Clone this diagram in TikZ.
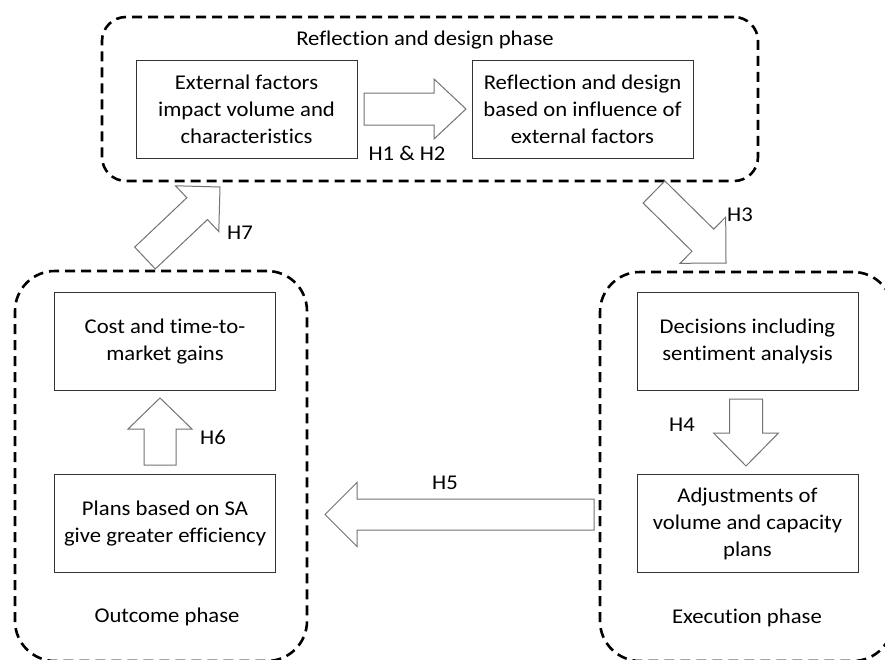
\documentclass[tikz,border=0pt]{standalone}
\usepackage{fontspec}
\setmainfont{Carlito}[Ligatures=NoCommon, FakeStretch=1.08]
\usetikzlibrary{calc}
\newcommand{\diagfont}{\fontsize{21}{27}\selectfont}
\newcommand{\blockarrow}[5]{%
  \coordinate (#1-h) at ($(#2)!#5!(#1)$);
  \draw[arr] ($(#1)!#3!90:(#2)$) -- ($(#1-h)!#3!90:(#2)$) -- ($(#1-h)!#4!90:(#2)$) -- (#2)
    -- ($(#1-h)!#4!-90:(#2)$) -- ($(#1-h)!#3!-90:(#2)$) -- ($(#1)!#3!-90:(#2)$) -- cycle;}
\begin{document}
\begin{tikzpicture}[x=1pt,y=-1pt,
  box/.style={draw=black!80, line width=1pt, minimum width=221pt, minimum height=98pt,
    align=center, inner sep=0pt, font=\diagfont},
  phasebox/.style={draw=black, line width=2.6pt, dash pattern=on 10pt off 6pt, inner sep=0pt},
  arr/.style={draw=black!55, line width=1pt, fill=white, line join=miter},
  lbl/.style={font=\diagfont, inner sep=0pt}]
\useasboundingbox (0,0) rectangle (885,659);
\clip (0,0) rectangle (885,659);
\fill[white] (0,0) rectangle (885,659);

% phase containers
\node[phasebox, rounded corners=24pt, minimum width=656pt, minimum height=164pt] (reflphase) at (430,99) {};
\node[phasebox, rounded corners=40pt, minimum width=292pt, minimum height=390pt] (outphase) at (161,466) {};
\node[phasebox, rounded corners=40pt, minimum width=293pt, minimum height=389pt] (execphase) at (746.5,466.5) {};

% phase titles
\node[lbl] (refltitle) at (425,40) {Reflection and design phase};
\node[lbl] (outtitle) at (167,617) {Outcome phase};
\node[lbl] (exectitle) at (747,618) {Execution phase};

% boxes
\node[box] (ext) at (246.5,109) {External factors\\impact volume and\\characteristics};
\node[box] (refl) at (582.5,109) {Reflection and design\\based on influence of\\external factors};
\node[box] (cost) at (165,341.5) {Cost and time-to-\\market gains};
\node[box] (plans) at (165,523.5) {Plans based on SA\\give greater efficiency};
\node[box] (dec) at (747.5,341) {Decisions including\\sentiment analysis};
\node[box] (adj) at (747.5,523.5) {Adjustments of\\volume and capacity\\plans};

% block arrows
\coordinate (a12t) at (364,109); \coordinate (a12p) at (466,109);
\blockarrow{a12t}{a12p}{16pt}{30pt}{32pt}
\coordinate (a3t) at (654,192); \coordinate (a3p) at (726,263);
\blockarrow{a3t}{a3p}{15.5pt}{32.5pt}{32.5pt}
\coordinate (a4t) at (746,399); \coordinate (a4p) at (746,466);
\blockarrow{a4t}{a4p}{16.5pt}{32.5pt}{33pt}
\coordinate (a5t) at (594,514.5); \coordinate (a5p) at (325,514.5);
\blockarrow{a5t}{a5p}{15.5pt}{32pt}{32pt}
\coordinate (a6t) at (160,465); \coordinate (a6p) at (160,398);
\blockarrow{a6t}{a6p}{16pt}{32pt}{31pt}
\coordinate (a7t) at (145,258); \coordinate (a7p) at (220,187);
\blockarrow{a7t}{a7p}{15pt}{31.5pt}{31.5pt}

% labels
\node[lbl] (h12) at (407,153) {H1 \& H2};
\node[lbl, anchor=west] (h3) at (727,215) {H3};
\node[lbl] (h4) at (682,425) {H4};
\node[lbl] (h5) at (445,483) {H5};
\node[lbl] (h6) at (213,437) {H6};
\node[lbl] (h7) at (240,233) {H7};
\end{tikzpicture}
\end{document}
